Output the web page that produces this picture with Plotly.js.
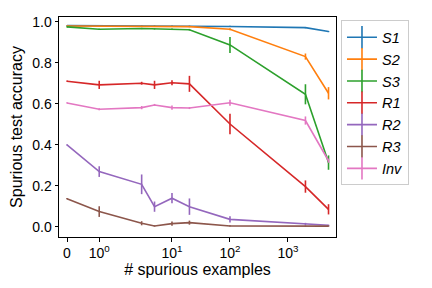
<!DOCTYPE html>
<html>
<head>
<meta charset="utf-8">
<script src="https://cdn.plot.ly/plotly-3.0.1.min.js"></script>
<style>html,body{margin:0;padding:0;background:#fff;}#chart{width:432px;height:288px;}</style>
</head>
<body>
<div id="chart"></div>
<script>
// Data (x = number of spurious examples, symlog axis with linthresh 2)
const xValues = [0, 1, 3, 5, 10, 20, 100, 2000, 5000];
const seriesNames = ["S1", "S2", "S3", "R1", "R2", "R3", "Inv"];
const S1 = [0.982, 0.981, 0.981, 0.981, 0.980, 0.980, 0.978, 0.972, 0.953];
const S1_err = [0.002, 0.002, 0.002, 0.002, 0.002, 0.002, 0.003, 0.003, 0.003];
const S2 = [0.980, 0.979, 0.979, 0.979, 0.978, 0.977, 0.964, 0.831, 0.652];
const S2_err = [0.002, 0.002, 0.002, 0.002, 0.002, 0.003, 0.005, 0.015, 0.03];
const S3 = [0.976, 0.964, 0.968, 0.966, 0.965, 0.962, 0.888, 0.647, 0.314];
const S3_err = [0.003, 0.003, 0.003, 0.003, 0.003, 0.004, 0.039, 0.049, 0.035];
const R1 = [0.711, 0.693, 0.701, 0.693, 0.703, 0.698, 0.502, 0.197, 0.086];
const R1_err = [0.003, 0.02, 0.007, 0.02, 0.012, 0.039, 0.05, 0.03, 0.025];
const R2 = [0.400, 0.270, 0.208, 0.099, 0.140, 0.099, 0.037, 0.015, 0.008];
const R2_err = [0.003, 0.026, 0.048, 0.025, 0.025, 0.04, 0.015, 0.005, 0.003];
const R3 = [0.138, 0.075, 0.018, 0.005, 0.016, 0.021, 0.005, 0.004, 0.004];
const R3_err = [0.003, 0.026, 0.01, 0.003, 0.01, 0.01, 0.003, 0.003, 0.003];
const Inv = [0.605, 0.574, 0.582, 0.595, 0.582, 0.580, 0.606, 0.519, 0.323];
const Inv_err = [0.003, 0.005, 0.008, 0.005, 0.01, 0.005, 0.015, 0.02, 0.01];
const xTickValues = [0, 1, 10, 100, 1000];
const xTickLabels = ["0", "10<sup>0</sup>", "10<sup>1</sup>", "10<sup>2</sup>", "10<sup>3</sup>"];
const yTickValues = [0, 0.2, 0.4, 0.6, 0.8, 1.0];

const colors = ["#1f77b4", "#ff7f0e", "#2ca02c", "#d62728", "#9467bd", "#8c564b", "#e377c2"];
const ys = [S1, S2, S3, R1, R2, R3, Inv];
const errs = [S1_err, S2_err, S3_err, R1_err, R2_err, R3_err, Inv_err];

// symlog transform (matplotlib style: linthresh=2, linscale=1, base 10)
const LINTHRESH = 2, LINSCALE_ADJ = 1 / (1 - 1 / 10);
function symlog(v) {
  const a = Math.abs(v);
  if (a <= LINTHRESH) return v * LINSCALE_ADJ / LINTHRESH;
  return Math.sign(v) * (LINSCALE_ADJ + Math.log10(a / LINTHRESH));
}

const dataTraces = seriesNames.map((name, i) => ({
  type: "scatter",
  mode: "lines",
  name: name,
  legendgroup: name,
  showlegend: false,
  x: xValues.map(symlog),
  y: ys[i],
  line: {color: colors[i], width: 1.6},
  error_y: {type: "data", array: errs[i], visible: true, color: colors[i], thickness: 1.6, width: 0}
}));
// legend entries: line with a vertical error-bar glyph (like matplotlib errorbar legend)
const legendTraces = seriesNames.map((name, i) => ({
  type: "scatter",
  mode: "lines+markers",
  name: name,
  legendgroup: name,
  x: [null], y: [null],
  line: {color: colors[i], width: 1.6},
  marker: {symbol: "line-ns-open", size: 16, color: colors[i], line: {color: colors[i], width: 1.6}}
}));

const font = "'Liberation Sans', Arial, Helvetica, sans-serif";
const layout = {
  width: 432, height: 288,
  margin: {l: 59, r: 96, t: 17, b: 51},
  paper_bgcolor: "#fff", plot_bgcolor: "#fff",
  font: {family: font, size: 14, color: "#000"},
  showlegend: true,
  legend: {
    x: 1.018, y: 0.985, xanchor: "left", yanchor: "top",
    bordercolor: "#cccccc", borderwidth: 1,
    font: {family: font, size: 14.5, style: "italic", color: "#000"},
    tracegroupgap: 0, maxheight: 270
  },
  xaxis: {
    range: [-0.138, 4.638],
    tickvals: xTickValues.map(symlog),
    ticktext: xTickLabels,
    ticks: "outside", ticklen: 3.5, tickwidth: 1, tickcolor: "#000",
    showline: true, linecolor: "#000", linewidth: 1, mirror: true,
    showgrid: false, zeroline: false,
    tickfont: {size: 14},
    title: {text: "# spurious examples", font: {size: 16}, standoff: 3}
  },
  yaxis: {
    range: [-0.049, 1.024],
    tickvals: yTickValues,
    tickformat: ".1f",
    ticks: "outside", ticklen: 3.5, tickwidth: 1, tickcolor: "#000",
    showline: true, linecolor: "#000", linewidth: 1, mirror: true,
    showgrid: false, zeroline: false,
    tickfont: {size: 14},
    title: {text: "Spurious test accuracy", font: {size: 16}, standoff: 5}
  }
};

Plotly.newPlot("chart", dataTraces.concat(legendTraces), layout, {displayModeBar: false, staticPlot: true});
</script>
</body>
</html>
